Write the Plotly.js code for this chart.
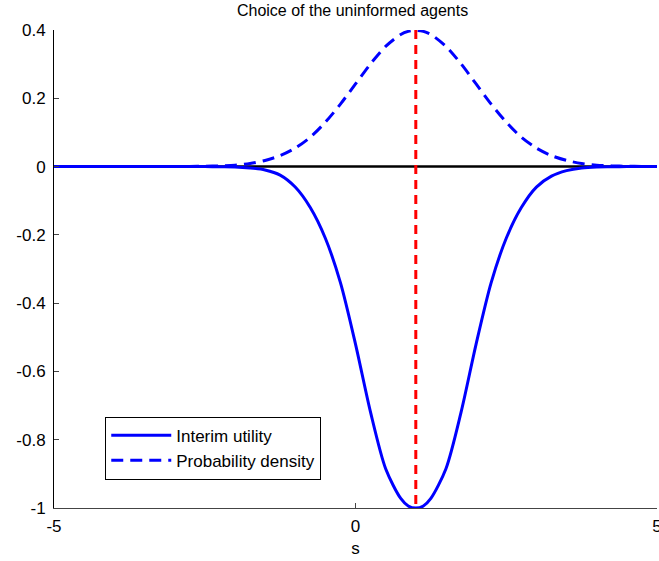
<!DOCTYPE html>
<html>
<head>
<meta charset="utf-8">
<script src="https://cdn.plot.ly/plotly-3.0.1.min.js"></script>
<style>html,body{margin:0;padding:0;background:#fff;}#chart{width:659px;height:561px;}</style>
</head>
<body>
<div id="chart"></div>
<script>
// grid of s values
var sValues = [-5,-4.75,-4.5,-4.25,-4,-3.75,-3.5,-3.25,-3,-2.75,-2.5,-2.25,-2,-1.75,-1.5,-1.25,-1,-0.75,-0.5,-0.25,0,0.25,0.5,0.75,0.875,1,1.125,1.25,1.5,1.75,2,2.25,2.5,2.75,3,3.25,3.5,3.75,4,4.25,4.5,4.75,5];
// Interim utility
var interimUtility = [0,0,0,0,0,0,0,0,0,0,0,-0.0005,-0.001,-0.004,-0.010,-0.025,-0.06,-0.12,-0.21,-0.34,-0.52,-0.72,-0.885,-0.972,-0.994,-1.0,-0.994,-0.972,-0.885,-0.72,-0.52,-0.34,-0.21,-0.12,-0.06,-0.028,-0.012,-0.004,-0.001,-0.0005,0,0,0];
// Probability density
var probDensity = [0,0,0,0,0,0,0,0,0,0.0005,0.001,0.002,0.004,0.009,0.018,0.032,0.054,0.086,0.130,0.183,0.242,0.301,0.352,0.387,0.396,0.399,0.396,0.387,0.352,0.301,0.242,0.183,0.130,0.086,0.054,0.032,0.018,0.009,0.004,0.002,0.001,0.0005,0];
// zero reference line and vertical marker
var zeroX = [-5,5], zeroY = [0,0];
var markerX = [1,1], markerY = [0.4,-1];
var xTicks = [-5,0,5];
var xTickText = ['-5','0','5'];
var yTicks = [-1,-0.8,-0.6,-0.4,-0.2,0,0.2,0.4];
var yTickText = ['-1','-0.8','-0.6','-0.4','-0.2','0','0.2','0.4'];
var legendNames = ['Interim utility','Probability density'];

var font = 'Liberation Sans, Arial, Helvetica, sans-serif';
var traces = [
  {x: zeroX, y: zeroY, mode:'lines', line:{color:'#000000', width:2.6}, showlegend:false, hoverinfo:'skip'},
  {x: sValues, y: interimUtility, mode:'lines', name: legendNames[0], line:{color:'#0000FF', width:3, shape:'spline', smoothing:0.8}},
  {x: sValues, y: probDensity, mode:'lines', name: legendNames[1], line:{color:'#0000FF', width:3, dash:'12px,7px', shape:'spline', smoothing:0.8}},
  {x: markerX, y: markerY, mode:'lines', line:{color:'#FF0000', width:3, dash:'9px,6px'}, showlegend:false, hoverinfo:'skip'}
];
var layout = {
  width:659, height:561,
  margin:{l:54, r:2, t:30, b:53, pad:0},
  paper_bgcolor:'#ffffff', plot_bgcolor:'#ffffff',
  font:{family:font, size:17, color:'#000'},
  title:{text:'Choice of the uninformed agents', font:{family:font, size:16, color:'#000'}, x:0.535, xanchor:'center', y:0.992, yanchor:'top'},
  xaxis:{range:[-5,5], tickvals:xTicks, ticktext:xTickText, ticks:'inside', ticklen:5, tickcolor:'#444', tickwidth:1,
    showline:true, linecolor:'#444', linewidth:1, showgrid:false, zeroline:false, automargin:false,
    ticklabeloverflow:'allow', ticklabelstandoff:3,
    tickfont:{family:font, size:17, color:'#000'},
    title:{text:'s', font:{family:font, size:17, color:'#000'}, standoff:6}},
  yaxis:{range:[-1,0.4], tickvals:yTicks, ticktext:yTickText, ticks:'inside', ticklen:5, tickcolor:'#444', tickwidth:1,
    showline:true, linecolor:'#000', linewidth:1, showgrid:false, zeroline:false, automargin:false,
    ticklabeloverflow:'allow', ticklabelstandoff:4,
    tickfont:{family:font, size:17, color:'#000'}},
  showlegend:true,
  legend:{x:0.085, y:0.191, xanchor:'left', yanchor:'top', bgcolor:'#ffffff', bordercolor:'#000', borderwidth:1,
    font:{family:font, size:17, color:'#000'}, itemwidth:60, tracegroupgap:0}
};
Plotly.newPlot('chart', traces, layout, {displayModeBar:false, staticPlot:true});
</script>
</body>
</html>
